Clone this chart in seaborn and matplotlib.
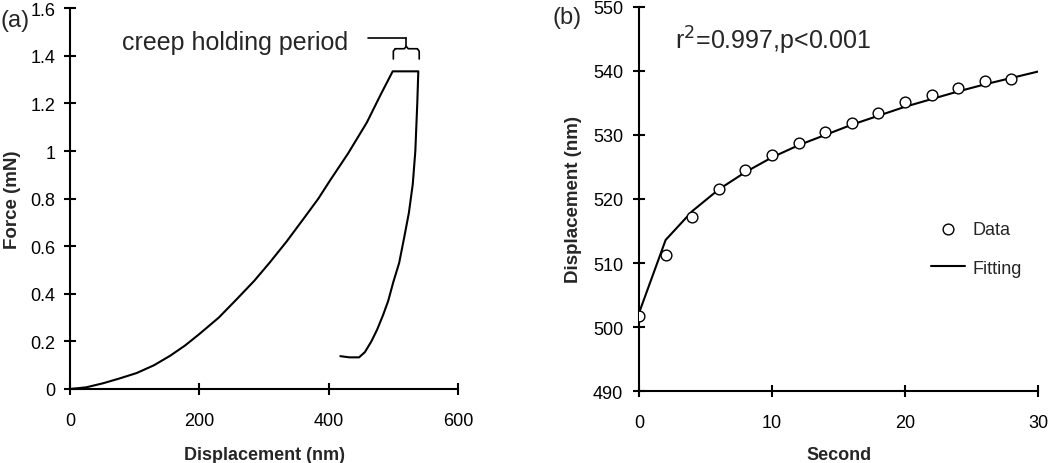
import matplotlib
matplotlib.use("Agg")
import matplotlib.pyplot as plt
import numpy as np
import pandas as pd
import seaborn as sns

# (a) load-displacement curve: loading, creep hold, unloading
curve_disp = [0, 25, 51, 75, 103, 130, 155, 178, 200, 230, 258, 285, 309, 335, 361, 384,
              402, 430, 459, 480, 499,
              538.6, 537, 534, 530, 524, 517, 509, 500, 492, 484, 475, 466, 456, 447, 432, 418]
curve_force = [0, 0.007, 0.024, 0.043, 0.067, 0.1, 0.14, 0.183, 0.231, 0.3, 0.378, 0.455, 0.532,
               0.62, 0.715, 0.8, 0.876, 0.99, 1.12, 1.235, 1.335,
               1.335, 1.2, 1.0, 0.86, 0.74, 0.64, 0.53, 0.45, 0.37, 0.31, 0.25, 0.2, 0.155,
               0.133, 0.133, 0.138]

# (b) creep displacement vs time
data_t = [0, 2, 4, 6, 8, 10, 12, 14, 16, 18, 20, 22, 24, 26, 28]
data_disp = [501.7, 511.3, 517.2, 521.5, 524.5, 526.9, 528.7, 530.4, 531.9, 533.5,
             535.2, 536.2, 537.3, 538.4, 538.8]
fit_t = [0, 2, 4, 6, 8, 10, 12, 14, 16, 18, 20, 22, 24, 26, 28, 30]
fit_disp = [502.2, 513.6, 518.1, 521.5, 524.2, 526.5, 528.4, 530.0, 531.6, 533.0,
            534.4, 535.6, 536.8, 537.9, 538.9, 539.9]

sns.set_style("ticks")
plt.rcParams['font.family'] = ['Liberation Sans', 'DejaVu Sans']

df_a = pd.DataFrame({'disp': curve_disp, 'force': curve_force})
df_b = pd.DataFrame({'t': data_t, 'disp': data_disp})
df_fit = pd.DataFrame({'t': fit_t, 'disp': fit_disp})

fig = plt.figure(figsize=(10.5, 4.64), dpi=100)
ax1 = fig.add_axes([0.0667, 0.1595, 0.3695, 0.8205])
ax2 = fig.add_axes([0.6086, 0.155, 0.38, 0.828])


def style_axes(ax, ypad):
    sns.despine(ax=ax)
    for sp in ['left', 'bottom']:
        ax.spines[sp].set_linewidth(1.5)
        ax.spines[sp].set_color('black')
    ax.tick_params(direction='inout', length=8.6, width=1.5, labelsize=13, colors='black')
    ax.tick_params(axis='x', pad=12)
    ax.tick_params(axis='y', pad=ypad)


# panel (a)
sns.lineplot(data=df_a, x='disp', y='force', sort=False, estimator=None,
             color='black', linewidth=1.5, ax=ax1)
ax1.set_xlim(0, 600)
ax1.set_ylim(0, 1.6)
ax1.set_xticks([0, 200, 400, 600])
ax1.set_yticks([0, 0.2, 0.4, 0.6, 0.8, 1.0, 1.2, 1.4, 1.6])
ax1.set_yticklabels(['0', '0.2', '0.4', '0.6', '0.8', '1', '1.2', '1.4', '1.6'])
style_axes(ax1, 6)
ax1.set_xlabel('Displacement (nm)', fontsize=13, fontweight='bold')
ax1.set_ylabel('Force (mN)', fontsize=13.5, fontweight='bold')
ax1.xaxis.set_label_coords(0.5, -0.15)
ax1.yaxis.set_label_coords(-0.126, 0.5)

# creep holding annotation + brace
ax1.text(80, 1.46, 'creep holding period', fontsize=18, va='center', ha='left')
ax1.plot([461, 520], [1.474, 1.474], color='black', lw=1.2, clip_on=False)
ax1.plot([520, 520], [1.474, 1.44], color='black', lw=1.2, clip_on=False)
ax1.plot([503, 517, 520, 523, 537], [1.43, 1.43, 1.44, 1.43, 1.43], color='black', lw=1.2, clip_on=False)
ax1.plot([500, 500, 503], [1.387, 1.42, 1.43], color='black', lw=1.2, clip_on=False)
ax1.plot([537, 540, 540], [1.43, 1.42, 1.387], color='black', lw=1.2, clip_on=False)
fig.text(0.0, 1 - 21 / 464, '(a)', fontsize=17, va='center', ha='left')

# panel (b)
sns.lineplot(data=df_fit, x='t', y='disp', color='black', linewidth=1.5, ax=ax2, label='Fitting')
sns.scatterplot(data=df_b, x='t', y='disp', marker='o', s=60, facecolor='white',
                edgecolor='black', linewidth=1.0, ax=ax2, label='Data', zorder=3)
ax2.set_xlim(0, 30)
ax2.set_ylim(490, 550)
ax2.set_xticks([0, 10, 20, 30])
ax2.set_yticks([490, 500, 510, 520, 530, 540, 550])
style_axes(ax2, 7)
ax2.set_xlabel('Second', fontsize=13, fontweight='bold')
ax2.set_ylabel('Displacement (nm)', fontsize=13.5, fontweight='bold')
ax2.xaxis.set_label_coords(0.5, -0.143)
ax2.yaxis.set_label_coords(-0.143, 0.5)
ax2.text(2.7, 544.8, r'r$^2$=0.997,p<0.001', fontsize=18, va='center', ha='left')
fig.text(553 / 1050, 1 - 18 / 464, '(b)', fontsize=17, va='center', ha='left')

h, l = ax2.get_legend_handles_labels()
order = [l.index('Data'), l.index('Fitting')]
ax2.legend([h[i] for i in order], [l[i] for i in order], frameon=False, fontsize=13,
           loc='center left', bbox_to_anchor=(0.69, 0.37), handlelength=1.9,
           labelspacing=1.2, handletextpad=0.4)

fig.savefig('out.png', dpi=100)
